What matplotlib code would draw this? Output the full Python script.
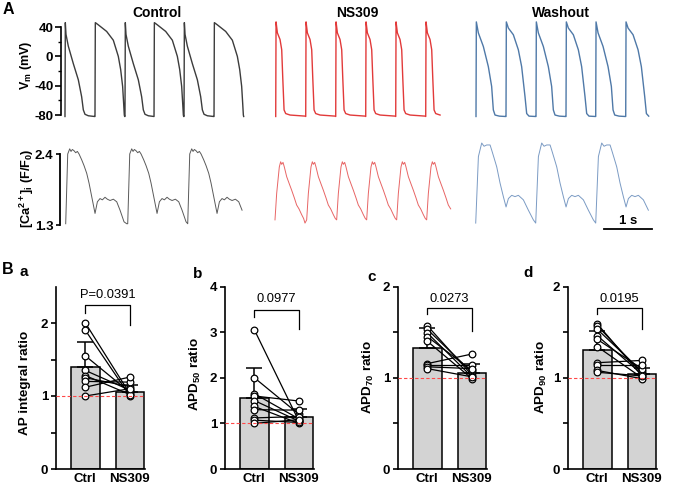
import numpy as np
import matplotlib
matplotlib.use("Agg")
import matplotlib.pyplot as plt

plt.rcParams["font.family"] = "Liberation Sans"
plt.rcParams["font.weight"] = "bold"
plt.rcParams["axes.unicode_minus"] = False
plt.rcParams["mathtext.fontset"] = "custom"
plt.rcParams["mathtext.rm"] = "Liberation Sans:bold"
plt.rcParams["mathtext.it"] = "Liberation Sans:italic:bold"
plt.rcParams["mathtext.bf"] = "Liberation Sans:bold"

# ---- panel A: beat onsets (s, from left of each trace axis) ----
ctrl_ap_onsets = [0.083, 0.708, 1.333, 1.938, 2.563, 3.188]
ns_ap_onsets = [0.119, 0.744, 1.369, 1.994, 2.619, 3.244]
wash_ap_onsets = [0.125, 0.750, 1.375, 2.000, 2.619, 3.244]
ctrl_ca_onsets = [0.098, 1.390, 2.640]
ns_ca_onsets = [0.104, 0.764, 1.389, 2.014, 2.639, 3.264]
wash_ca_onsets = [0.119, 1.369, 2.619]
ap_end = [3.85, 3.81, 3.81]
ca_end = [3.79, 3.81, 3.81]

# AP shapes (time after upstroke in s, mV)
ctrl_short_t = [0, 0.007, 0.021, 0.069, 0.174, 0.278, 0.347, 0.382, 0.417, 0.486, 0.618]
ctrl_short_v = [-82, 46, 30, 14, -10, -32, -55, -73, -79, -81, -82]
ctrl_long_t = [0, 0.007, 0.069, 0.243, 0.382, 0.486, 0.535, 0.576, 0.597, 0.611, 0.618]
ctrl_long_v = [-82, 46, 43, 34, 22, 0, -18, -41, -64, -80, -82]
ns_ap_t = [0, 0.007, 0.035, 0.090, 0.125, 0.146, 0.174, 0.208, 0.299, 0.618]
ns_ap_v = [-82, 47, 32, 23, 9, -28, -73, -78, -80, -81.5]
wash_a_t = [0, 0.007, 0.049, 0.153, 0.257, 0.326, 0.361, 0.396, 0.486, 0.618]
wash_a_v = [-82, 47, 32, 13.5, -14, -41, -73, -80, -81.5, -82]
wash_b_t = [0, 0.007, 0.049, 0.153, 0.257, 0.326, 0.396, 0.431, 0.479, 0.618]
wash_b_v = [-82, 47, 38.6, 29.5, 9, -14, -55, -78, -81.5, -82]

# Ca transient shapes (time after rise in s, F/F0)
ctrl_ca_t = [0, 0.042, 0.083, 0.111, 0.139, 0.174, 0.208, 0.243, 0.278, 0.333, 0.382, 0.438, 0.486,
             0.542, 0.611, 0.660, 0.715, 0.764, 0.819, 0.868, 0.924, 0.993, 1.063, 1.132, 1.215, 1.271]
ctrl_ca_v = [1.32, 2.40, 2.48, 2.44, 2.47, 2.45, 2.42, 2.44, 2.40, 2.31, 2.22, 2.10, 1.95,
             1.74, 1.48, 1.66, 1.71, 1.69, 1.73, 1.70, 1.68, 1.70, 1.66, 1.53, 1.35, 1.32]
ns_ca_t = [0, 0.035, 0.090, 0.118, 0.139, 0.167, 0.194, 0.243, 0.292, 0.347, 0.403, 0.451, 0.500,
           0.556, 0.597, 0.625]
ns_ca_v = [1.38, 1.79, 2.20, 2.28, 2.24, 2.27, 2.20, 2.05, 1.95, 1.84, 1.72, 1.61, 1.55, 1.46, 1.40, 1.33]
wash_ca_t = [0, 0.056, 0.125, 0.174, 0.229, 0.299, 0.333, 0.382, 0.438, 0.507, 0.576, 0.632, 0.681,
             0.750, 0.819, 0.889, 0.993, 1.097, 1.201, 1.250]
wash_ca_v = [1.33, 2.36, 2.57, 2.52, 2.54, 2.54, 2.46, 2.34, 2.20, 1.95, 1.74, 1.58, 1.71,
             1.76, 1.74, 1.76, 1.69, 1.53, 1.38, 1.33]

titles = ["Control", "NS309", "Washout"]

# ---- panel B: paired ratios ----
groups = ["Ctrl", "NS309"]
a_ctrl = [2.00, 1.90, 1.55, 1.35, 1.28, 1.25, 1.20, 1.12, 1.00]
a_ns = [1.03, 1.00, 1.05, 1.08, 1.02, 1.13, 1.19, 1.26, 1.10]
b_ctrl = [3.05, 2.00, 1.65, 1.60, 1.50, 1.37, 1.30, 1.12, 1.07, 1.00]
b_ns = [1.05, 1.20, 1.10, 1.49, 1.05, 1.00, 1.29, 1.15, 1.02, 1.08]
c_ctrl = [1.57, 1.53, 1.49, 1.45, 1.40, 1.155, 1.14, 1.12, 1.10]
c_ns = [1.03, 1.06, 1.01, 1.08, 0.99, 1.26, 1.14, 1.10, 1.01]
d_ctrl = [1.59, 1.57, 1.53, 1.46, 1.42, 1.34, 1.165, 1.14, 1.08, 1.06]
d_ns = [1.02, 1.05, 1.07, 1.04, 1.10, 1.00, 1.19, 1.14, 0.99, 1.02]
bar_means = [[1.40, 1.05], [1.56, 1.14], [1.33, 1.05], [1.30, 1.045]]
bar_err = [[0.34, 0.10], [0.66, 0.17], [0.22, 0.10], [0.21, 0.065]]
p_texts = ["P=0.0391", "0.0977", "0.0273", "0.0195"]
brackets = [[2.24, 2.14, 1.97], [3.48, 3.34, 3.07], [1.76, 1.70, 1.51], [1.76, 1.70, 1.53]]
p_text_y = [2.39, 3.72, 1.86, 1.86]
ylabels = ["AP integral ratio", "APD$_{50}$ ratio", "APD$_{70}$ ratio", "APD$_{90}$ ratio"]
ytop = [2.5, 4, 2, 2]
letters = ["a", "b", "c", "d"]

W, H = 675, 492
fig = plt.figure(figsize=(W / 100, H / 100), dpi=100)


def px_axes(left, top, width, height):
    return fig.add_axes([left / W, 1 - (top + height) / H, width / W, height / H])


def build(onsets, shapes, t_end):
    ts, vs = [], []
    for i, t0 in enumerate(onsets):
        st, sv = shapes[i % len(shapes)]
        nxt = onsets[i + 1] if i + 1 < len(onsets) else t_end
        for tt, vv in zip(st, sv):
            if t0 + tt < nxt:
                ts.append(t0 + tt)
                vs.append(vv)
    return ts, vs


ap_data = [
    (ctrl_ap_onsets, [(ctrl_short_t, ctrl_short_v), (ctrl_long_t, ctrl_long_v)]),
    (ns_ap_onsets, [(ns_ap_t, ns_ap_v)]),
    (wash_ap_onsets, [(wash_a_t, wash_a_v), (wash_b_t, wash_b_v)]),
]
ca_data = [
    (ctrl_ca_onsets, [(ctrl_ca_t, ctrl_ca_v)]),
    (ns_ca_onsets, [(ns_ca_t, ns_ca_v)]),
    (wash_ca_onsets, [(wash_ca_t, wash_ca_v)]),
]
ap_colors = ["#3c3c3c", "#e23a3a", "#4f79a8"]
ca_colors = ["#5a5a5a", "#e86565", "#7b9bc4"]
lefts = [61, 270, 470]
title_x = [157, 357, 561]

for k in range(3):
    ax = px_axes(lefts[k], 19.7, 190, 101.2)
    t, v = build(ap_data[k][0], ap_data[k][1], ap_end[k])
    ax.plot(t, v, color=ap_colors[k], lw=1.0)
    ax.set_xlim(0, 190 / 48)
    ax.set_ylim(-88, 50)
    for s in ["top", "right", "bottom"]:
        ax.spines[s].set_visible(False)
    ax.set_xticks([])
    if k == 0:
        ax.spines["left"].set_bounds(-80, 40)
        ax.spines["left"].set_linewidth(1.2)
        ax.set_yticks([-80, -40, 0, 40])
        ax.set_yticks([-60, -20, 20], minor=True)
        ax.tick_params(axis="y", which="major", length=4, width=1.2, labelsize=9.5, pad=1.5)
        ax.tick_params(axis="y", which="minor", length=2.5, width=1.0)
        for lb in ax.get_yticklabels():
            lb.set_fontweight("bold")
    else:
        ax.spines["left"].set_visible(False)
        ax.set_yticks([])
    fig.text(title_x[k] / W, 1 - 13 / H, titles[k], ha="center", va="center", fontsize=10)

    ax2 = px_axes(lefts[k], 139.8, 190, 90.4)
    t, v = build(ca_data[k][0], ca_data[k][1], ca_end[k])
    ax2.plot(t, v, color=ca_colors[k], lw=0.7)
    ax2.set_xlim(0, 190 / 48)
    ax2.set_ylim(1.22, 2.62)
    for s in ["top", "right", "bottom"]:
        ax2.spines[s].set_visible(False)
    ax2.set_xticks([])
    if k == 0:
        ax2.spines["left"].set_bounds(1.3, 2.4)
        ax2.spines["left"].set_linewidth(1.3)
        ax2.spines["left"].set_position(("outward", 1))
        ax2.set_yticks([1.3, 2.4])
        ax2.set_yticklabels(["1.3", "2.4"], fontweight="bold")
        ax2.tick_params(axis="y", length=3, width=1.2, labelsize=9.5, pad=1.5)
    else:
        ax2.spines["left"].set_visible(False)
        ax2.set_yticks([])
    if k == 2:
        ax2.plot([2.79, 3.79], [1.24, 1.24], color="k", lw=1.3, clip_on=False)
        ax2.text(3.29, 1.27, "1 s", ha="center", va="bottom", fontsize=9.5)

fig.text(26 / W, 1 - 65 / H, "V$_\\mathrm{m}$ (mV)", rotation=90, ha="center", va="center", fontsize=9)
fig.text(27 / W, 1 - 188 / H, "[Ca$^{2+}$]$_\\mathrm{i}$ (F/F$_\\mathrm{0}$)", rotation=90,
         ha="center", va="center", fontsize=9.2)
fig.text(3 / W, 1 - 9 / H, "A", fontsize=11.5, va="center")
fig.text(2 / W, 1 - 270 / H, "B", fontsize=11.5, va="center")

# ---- panel B ----
pairs = [(a_ctrl, a_ns), (b_ctrl, b_ns), (c_ctrl, c_ns), (d_ctrl, d_ns)]
b_lefts = [56, 225, 398, 568]
ylab_x = [25, 195, 368, 541]
ylab_y = [383, 374, 377, 377]
letter_pos = [(20, 272), (193, 274), (367, 277), (523, 273)]
x = np.array([0, 1])

for k in range(4):
    ax = px_axes(b_lefts[k], 286.5, 89, 182.5)
    ax.bar(x, bar_means[k], width=0.64, color="#d3d3d3", edgecolor="k", linewidth=1.1, zorder=1)
    ax.errorbar(x, bar_means[k], yerr=[[0, 0], bar_err[k]], fmt="none", ecolor="k",
                elinewidth=1.1, capsize=5.5, capthick=1.1, zorder=2)
    c_vals, n_vals = pairs[k]
    for cv, nv in zip(c_vals, n_vals):
        ax.plot([0, 1], [cv, nv], color="k", lw=0.9, zorder=3)
    ax.plot(np.zeros(len(c_vals)), c_vals, "o", mfc="white", mec="k", ms=4.8, mew=0.9, zorder=4)
    ax.plot(np.ones(len(n_vals)), n_vals, "o", mfc="white", mec="k", ms=4.8, mew=0.9, zorder=4)
    ax.axhline(1, color="#ff4848", lw=0.8, ls=(0, (3, 2)), zorder=5)
    yb = brackets[k]
    ax.plot([0, 0, 1, 1], [yb[1], yb[0], yb[0], yb[2]], color="k", lw=0.9)
    ax.text(0.5, p_text_y[k], p_texts[k], ha="center", va="center", fontsize=9.3, fontweight="normal")
    ax.set_xlim(-0.66, 1.34)
    ax.set_ylim(0, ytop[k])
    ax.set_xticks(x)
    ax.set_xticklabels(groups, fontweight="bold")
    if ytop[k] == 4:
        ax.set_yticks([0, 1, 2, 3, 4])
    else:
        ax.set_yticks([0, 1, 2])
        ax.set_yticks([0.5, 1.5], minor=True)
    for lb in ax.get_yticklabels():
        lb.set_fontweight("bold")
    for s in ["top", "right"]:
        ax.spines[s].set_visible(False)
    for s in ["left", "bottom"]:
        ax.spines[s].set_linewidth(1.2)
    ax.tick_params(axis="both", which="major", length=3.5, width=1.2, labelsize=9.5, pad=2)
    ax.tick_params(axis="x", length=0, pad=3)
    ax.tick_params(axis="y", which="minor", length=3.5, width=1.2)
    fig.text(ylab_x[k] / W, 1 - ylab_y[k] / H, ylabels[k], rotation=90, ha="center", va="center",
             fontsize=9.7)
    fig.text(letter_pos[k][0] / W, 1 - letter_pos[k][1] / H, letters[k], fontsize=11, va="center")

fig.savefig("out.png", dpi=100)
